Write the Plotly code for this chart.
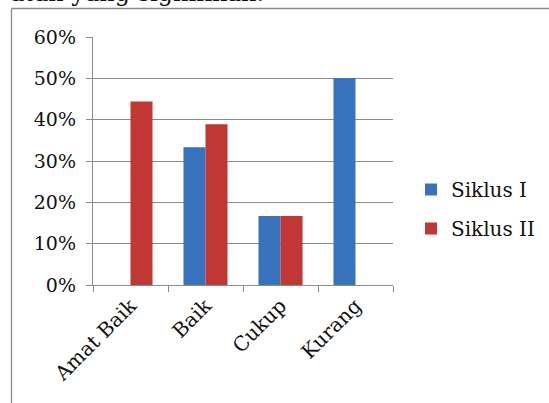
import plotly.graph_objects as go

categories = ["Amat Baik", "Baik", "Cukup", "Kurang"]
siklus1 = [0.0, 0.333, 0.167, 0.50]
siklus2 = [0.444, 0.389, 0.167, 0.0]
series_names = ["Siklus I", "Siklus II"]
y_ticks = [0, 0.1, 0.2, 0.3, 0.4, 0.5, 0.6]
y_labels = ["0%", "10%", "20%", "30%", "40%", "50%", "60%"]
caption = "atan yang signifikan."

W, H = 549, 403
L, R, T, B = 93, 156, 37, 118
pw, ph = W - L - R, H - T - B

def px_x(x):
    return (x - L) / pw

def px_y(y):
    return (H - B - y) / ph

FONT = "DejaVu Serif"
GRID = "#8c8c8c"

fig = go.Figure()
fig.add_trace(go.Bar(x=categories, y=siklus1, name=series_names[0],
                     marker=dict(color="#3872bd", line=dict(width=0)),
                     legendgroup="a"))
fig.add_trace(go.Bar(x=categories, y=siklus2, name=series_names[1],
                     marker=dict(color="#c03733", line=dict(width=0)),
                     legendgroup="b"))

fig.update_layout(
    width=W, height=H,
    margin=dict(l=L, r=R, t=T, b=B, pad=0, autoexpand=False),
    paper_bgcolor="white", plot_bgcolor="white",
    barmode="group", bargap=0.413, bargroupgap=0,
    font=dict(family=FONT, size=19, color="#111111"),
    showlegend=True,
    legend=dict(x=px_x(411), y=px_y(170), xanchor="left", yanchor="top",
                font=dict(family=FONT, size=20, color="#111111"),
                tracegroupgap=10, itemwidth=30, bgcolor="rgba(0,0,0,0)"),
    xaxis=dict(showgrid=False, showline=True, linecolor=GRID, linewidth=1.4,
               ticks="outside", ticklen=6, tickcolor=GRID, tickwidth=1.4,
               tickson="boundaries", tickangle=-45,
               tickfont=dict(family=FONT, size=20, color="#111111")),
    yaxis=dict(range=[0, 0.6], tickvals=y_ticks, ticktext=y_labels,
               showgrid=True, gridcolor=GRID, gridwidth=1.4,
               showline=True, linecolor=GRID, linewidth=1.4,
               ticks="outside", ticklen=6, tickcolor=GRID, tickwidth=1.4,
               zeroline=False, ticklabelstandoff=6,
               tickfont=dict(family=FONT, size=19, color="#111111")),
    shapes=[dict(type="line", xref="paper", yref="paper",
                 x0=px_x(11.5), x1=px_x(600), y0=px_y(8.5), y1=px_y(8.5),
                 line=dict(color="#8a8a8a", width=1.3), layer="above"),
            dict(type="line", xref="paper", yref="paper",
                 x0=px_x(11.5), x1=px_x(11.5), y0=px_y(8.5), y1=px_y(450),
                 line=dict(color="#8a8a8a", width=1.3), layer="above")],
    annotations=[dict(text=caption, xref="paper", yref="paper",
                      x=px_x(266), y=px_y(9), xanchor="right", yanchor="bottom",
                      showarrow=False,
                      font=dict(family=FONT, size=24, color="#111111"))],
)

fig.write_html("out.html", config={"displayModeBar": False},
               post_script="document.body.style.margin='0';document.body.style.overflow='hidden';")
